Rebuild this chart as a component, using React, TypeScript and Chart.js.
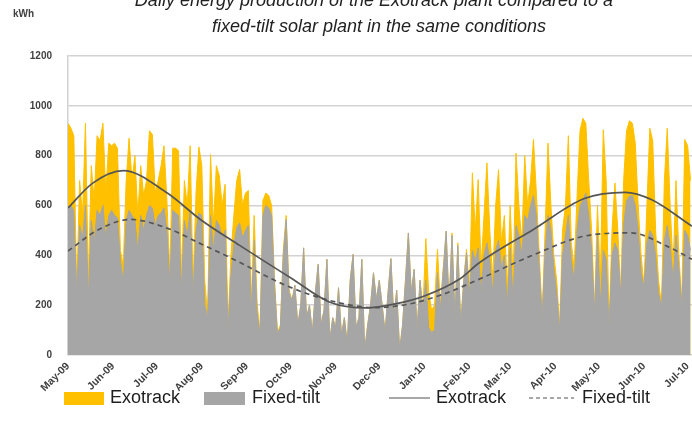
import React, { useEffect, useRef } from 'react';
import { Chart, registerables } from 'chart.js';

Chart.register(...registerables);

// ---------- DATA ----------
const TITLE_LINES = [
  'Daily energy production of the Exotrack plant compared to a',
  'fixed-tilt solar plant in the same conditions',
];
const UNIT_LABEL = 'kWh';

const MONTH_LABELS = ['May-09', 'Jun-09', 'Jul-09', 'Aug-09', 'Sep-09', 'Oct-09', 'Nov-09', 'Dec-09', 'Jan-10', 'Feb-10', 'Mar-10', 'Apr-10', 'May-10', 'Jun-10', 'Jul-10'];
const MONTH_START_DAYS = [0, 31, 61, 92, 123, 153, 184, 214, 245, 276, 304, 335, 365, 396, 426];
const Y_TICKS = [0, 200, 400, 600, 800, 1000, 1200];

// daily production, sampled every 2 days from 1 May 2009
const SAMPLE_STEP_DAYS = 2;
const EXOTRACK_KWH = [
  930, 910, 880, 260, 700, 560, 930, 300, 760, 620, 880, 860, 930, 650, 850, 840,
  850, 830, 420, 360, 700, 870, 700, 800, 560, 760, 640, 700, 900, 885, 650,
  700, 760, 840, 620, 330, 830, 830, 820, 310, 700, 600, 840, 280, 650, 835,
  760, 300, 160, 805, 520, 760, 720, 600, 685, 120, 400, 560, 700, 745, 600, 650,
  660, 200, 560, 210, 90, 620, 650, 640, 600, 300, 90, 120, 420, 560, 260,
  220, 280, 120, 200, 430, 150, 200, 90, 250, 364, 120, 180, 384, 60, 150, 110, 270, 80, 150, 45, 300, 404, 110, 150, 384, 20, 120, 200, 330, 224,
  300, 200, 90, 250, 387, 150, 260, 20, 120, 300, 490, 250, 344, 100, 300, 180,
  467, 250, 180, 200, 424, 200, 350, 497, 200, 490, 150, 450, 120, 300, 424, 250,
  731, 500, 704, 350, 560, 771, 500, 300, 600, 744, 450, 560, 250, 600,
  300, 810, 600, 450, 800, 600, 700, 865, 650, 400, 160, 500, 850, 600, 400,
  300, 110, 500, 600, 880, 450, 350, 640, 900, 950, 930, 700, 500, 180, 600,
  300, 904, 700, 120, 500, 690, 500, 250, 700, 900, 940, 930, 850, 600, 400,
  280, 600, 910, 860, 500, 300, 200, 700, 910, 600, 350, 700, 400, 210, 865, 840, 700,
];
const FIXED_TILT_KWH = [
  590, 600, 580, 250, 520, 470, 600, 230, 540, 450, 580, 560, 600, 470, 560, 580,
  560, 550, 380, 290, 540, 580, 560, 540, 420, 560, 500, 560, 600, 590, 520,
  560, 570, 590, 500, 290, 580, 570, 560, 260, 540, 480, 580, 240, 500, 570,
  560, 200, 150, 560, 420, 540, 520, 470, 500, 100, 320, 440, 510, 530, 470, 500,
  520, 170, 460, 170, 85, 560, 600, 590, 560, 280, 85, 110, 400, 544, 250,
  220, 280, 120, 200, 430, 150, 200, 90, 250, 364, 120, 180, 384, 60, 150, 110, 270, 80, 150, 45, 300, 404, 110, 150, 384, 20, 120, 200, 330, 224,
  300, 200, 90, 250, 387, 150, 260, 20, 120, 300, 490, 250, 344, 100, 300, 180,
  300, 110, 90, 100, 330, 180, 340, 497, 200, 480, 150, 440, 120, 290, 410, 240,
  420, 380, 430, 250, 400, 450, 380, 250, 420, 460, 350, 400, 200, 430,
  220, 520, 480, 400, 560, 540, 600, 640, 560, 350, 150, 420, 560, 500, 350,
  250, 100, 400, 480, 560, 380, 300, 500, 600, 620, 650, 560, 420, 170, 480,
  200, 420, 384, 113, 400, 450, 420, 240, 520, 620, 637, 640, 600, 500, 330,
  273, 450, 500, 480, 400, 250, 190, 460, 520, 440, 300, 480, 350, 200, 500, 480, 420,
];

// trend lines (day offset from 1 May 2009, kWh)
const EXOTRACK_TREND_DAYS = [0, 17, 38, 68, 91, 118, 153, 180, 205, 225, 245, 269, 283, 320, 355, 383, 401, 429];
const EXOTRACK_TREND_KWH = [590, 690, 740, 651, 544, 440, 310, 212, 189, 205, 237, 304, 371, 504, 628, 653, 624, 517];
const FIXED_TREND_DAYS = [0, 20, 43, 69, 90, 118, 143, 165, 190, 210, 235, 258, 283, 318, 355, 387, 412, 429];
const FIXED_TREND_KWH = [417, 500, 544, 507, 450, 372, 297, 245, 205, 190, 205, 244, 305, 397, 477, 490, 436, 384];

const SERIES_NAMES = ['Exotrack', 'Fixed-tilt'];

// ---------- STYLE ----------
const YELLOW = '#FFC000';
const GREY = '#A6A6A6';
const TREND = '#555555';
const GRID = '#D2D2D2';
const FONT = '"Liberation Sans", Arial, sans-serif';

const toPoints = (vals: number[]) => vals.map((v, i) => ({ x: i * SAMPLE_STEP_DAYS, y: v }));
const zip = (days: number[], vals: number[]) => days.map((d, i) => ({ x: d, y: vals[i] }));

const decorPlugin = {
  id: 'decor',
  afterDraw(chart: any) {
    const ctx = chart.ctx;
    ctx.save();
    // title
    ctx.fillStyle = '#222222';
    ctx.font = `italic 18px ${FONT}`;
    ctx.textAlign = 'center';
    ctx.textBaseline = 'alphabetic';
    ctx.fillText(TITLE_LINES[0], 374, 6);
    ctx.fillText(TITLE_LINES[1], 379, 32);
    // unit
    ctx.fillStyle = '#404040';
    ctx.font = `bold 10px ${FONT}`;
    ctx.textAlign = 'left';
    ctx.fillText(UNIT_LABEL, 13, 17);
    // legend
    const ly = 398;
    ctx.font = `18px ${FONT}`;
    ctx.textBaseline = 'middle';
    ctx.fillStyle = YELLOW;
    ctx.fillRect(64, ly - 6, 40, 13);
    ctx.fillStyle = GREY;
    ctx.fillRect(204, ly - 6, 41, 13);
    ctx.strokeStyle = '#8A8A8A';
    ctx.lineWidth = 1.5;
    ctx.beginPath();
    ctx.moveTo(389, ly);
    ctx.lineTo(430, ly);
    ctx.stroke();
    ctx.setLineDash([4, 3]);
    ctx.beginPath();
    ctx.moveTo(529, ly);
    ctx.lineTo(574, ly);
    ctx.stroke();
    ctx.setLineDash([]);
    ctx.fillStyle = '#1E1E1E';
    ctx.fillText(SERIES_NAMES[0], 110, ly);
    ctx.fillText(SERIES_NAMES[1], 252, ly);
    ctx.fillText(SERIES_NAMES[0], 436, ly);
    ctx.fillText(SERIES_NAMES[1], 582, ly);
    ctx.restore();
  },
};

export default function App() {
  const ref = useRef<HTMLCanvasElement | null>(null);
  useEffect(() => {
    if (!ref.current) return;
    const chart = new Chart(ref.current, {
      type: 'line',
      data: {
        datasets: [
          {
            label: SERIES_NAMES[0] + ' trend',
            data: zip(EXOTRACK_TREND_DAYS, EXOTRACK_TREND_KWH),
            borderColor: TREND,
            borderWidth: 1.7,
            pointRadius: 0,
            fill: false,
            cubicInterpolationMode: 'monotone',
            order: 0,
          },
          {
            label: SERIES_NAMES[1] + ' trend',
            data: zip(FIXED_TREND_DAYS, FIXED_TREND_KWH),
            borderColor: TREND,
            borderWidth: 1.7,
            borderDash: [5, 4],
            pointRadius: 0,
            fill: false,
            cubicInterpolationMode: 'monotone',
            order: 1,
          },
          {
            label: SERIES_NAMES[1],
            data: toPoints(FIXED_TILT_KWH),
            borderColor: GREY,
            backgroundColor: GREY,
            borderWidth: 1,
            pointRadius: 0,
            fill: 'origin',
            tension: 0,
            order: 2,
          },
          {
            label: SERIES_NAMES[0],
            data: toPoints(EXOTRACK_KWH),
            borderColor: YELLOW,
            backgroundColor: YELLOW,
            borderWidth: 1,
            pointRadius: 0,
            fill: 'origin',
            tension: 0,
            order: 3,
          },
        ],
      },
      options: {
        responsive: false,
        animation: false,
        events: [],
        layout: { padding: { top: 56, left: 0, right: 0, bottom: 32 } },
        plugins: {
          legend: { display: false },
          title: { display: false },
          tooltip: { enabled: false },
        },
        scales: {
          x: {
            type: 'linear',
            min: 0,
            max: 429,
            afterBuildTicks: (axis: any) => {
              axis.ticks = MONTH_START_DAYS.map((v) => ({ value: v }));
            },
            afterFit: (axis: any) => {
              axis.height = 45;
              axis.paddingLeft = 0;
              axis.paddingRight = 0;
            },
            ticks: {
              autoSkip: false,
              minRotation: 45,
              maxRotation: 45,
              padding: 5,
              color: '#404040',
              font: { family: FONT, size: 10.5, weight: 'bold' },
              callback: (value: any) => MONTH_LABELS[MONTH_START_DAYS.indexOf(Number(value))],
            },
            grid: { display: false, drawTicks: false },
            border: { display: false },
          },
          y: {
            type: 'linear',
            min: 0,
            max: 1200,
            afterBuildTicks: (axis: any) => {
              axis.ticks = Y_TICKS.map((v) => ({ value: v }));
            },
            afterFit: (axis: any) => {
              axis.width = 68;
            },
            ticks: {
              padding: 16,
              color: '#404040',
              font: { family: FONT, size: 10, weight: 'bold' },
              callback: (value: any) => String(value),
            },
            grid: { color: GRID, lineWidth: 1.5, drawTicks: false },
            border: { display: true, color: GRID, width: 1.5 },
          },
        },
      },
      plugins: [decorPlugin],
    } as any);
    return () => chart.destroy();
  }, []);

  return (
    <div style={{ position: 'fixed', left: 0, top: 0, width: 692, height: 432, background: '#ffffff' }}>
      <canvas ref={ref} width={692} height={432} style={{ display: 'block', width: 692, height: 432 }} />
    </div>
  );
}
